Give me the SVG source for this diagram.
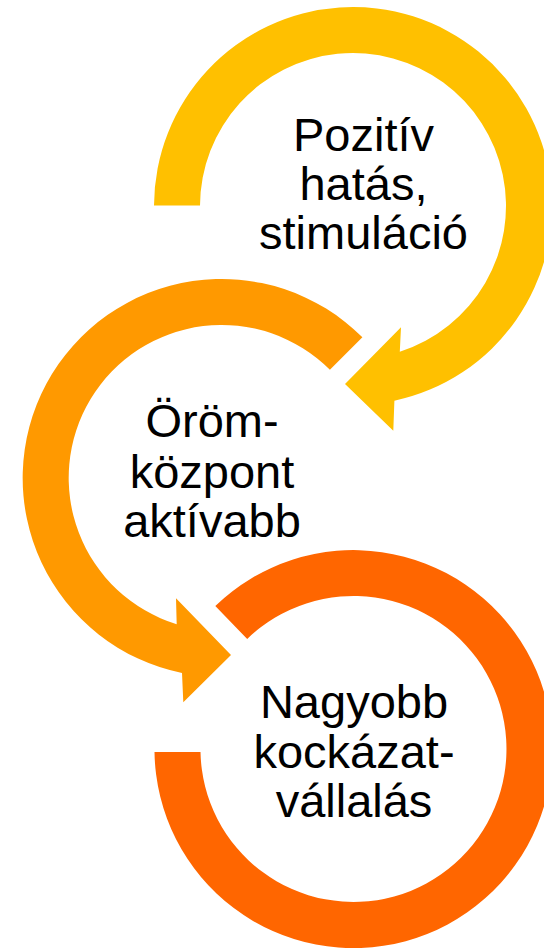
<svg xmlns="http://www.w3.org/2000/svg" width="544" height="949" viewBox="0 0 544 949">
  <style>
    .lbl { font-family: "Liberation Sans", Arial, sans-serif; font-size: 47px; fill: #000000; text-anchor: middle; }
    .c1 { fill: #FFC000; }
    .c2 { fill: #FF9900; }
    .c3 { fill: #FF6600; }
  </style>
  <rect width="544" height="949" fill="#FFFFFF"/>
  <g id="node-1">
    <path class="c1" d="M 154 205.5 A 199 199 0 1 1 394.4 400.7 L 393.3 430.7 L 345 384 L 401 327.3 L 399.8 351.7 A 153 153 0 1 0 200 205.5 Z"/>
    <text class="lbl" x="363.5" y="150.7">Pozitív</text>
    <text class="lbl" x="363.5" y="200">hatás,</text>
    <text class="lbl" x="363.5" y="249.3">stimuláció</text>
  </g>
  <g id="node-2">
    <path class="c2" d="M 362.4 337.3 A 199 199 0 1 0 182 673 L 183.3 702.3 L 231 655 L 176 598.3 L 176.7 624.2 A 153 153 0 1 1 329.9 369.8 Z"/>
    <text class="lbl" x="212" y="437.3">Öröm-</text>
    <text class="lbl" x="212" y="488">központ</text>
    <text class="lbl" x="212" y="537.3">aktívabb</text>
  </g>
  <g id="node-3">
    <path class="c3" d="M 215.3 605.9 A 199 199 0 1 1 154.5 752 L 200.5 752 A 153 153 0 1 0 247.2 638.9 Z"/>
    <text class="lbl" x="354" y="718.3">Nagyobb</text>
    <text class="lbl" x="354" y="768.3">kockázat-</text>
    <text class="lbl" x="354" y="817.3">vállalás</text>
  </g>
  <g id="connectors"/>
</svg>
